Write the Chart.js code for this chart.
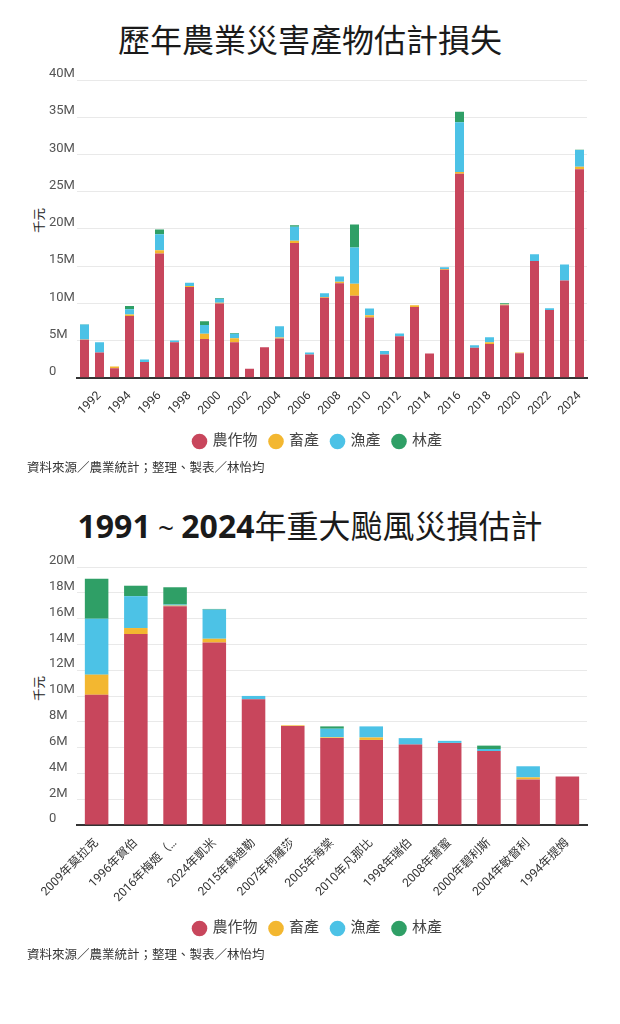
<!DOCTYPE html>
<html lang="zh-Hant">
<head>
<meta charset="utf-8">
<script src="https://cdn.jsdelivr.net/npm/chart.js@4.4.1/dist/chart.umd.min.js"></script>
<style>
  body { margin:0; background:#fff; width:620px; height:1024px; position:relative; overflow:hidden;
         font-family:'Noto Sans','Noto Sans CJK TC',sans-serif; color:#1a1a1a; }
  .title { position:absolute; left:0; width:620px; text-align:center; white-space:nowrap; }
  .box { position:absolute; left:0; width:620px; }
  .unit { position:absolute; font-size:12.5px; color:#222; transform:rotate(-90deg); transform-origin:center; white-space:nowrap; }
  .source { position:absolute; left:27px; font-size:12.5px; color:#333; font-family:'Noto Sans CJK TC',sans-serif; }
</style>
</head>
<body>

<div class="title" style="top:15px;font-size:32px;font-family:'Noto Sans CJK TC',sans-serif;">歷年農業災害產物估計損失</div>
<div class="unit" style="left:26px;top:211px;">千元</div>
<div class="box" style="top:58px;height:401px;"><canvas id="yearChart"></canvas></div>
<div class="source" style="top:457px;">資料來源／農業統計；整理、製表／林怡均</div>

<div class="title" style="top:501px;font-size:32px;"><b>1991</b><span style="font-size:28px;font-weight:400;"> ~ </span><b>2024</b><span style="font-family:'Noto Sans CJK TC',sans-serif;">年重大颱風災損估計</span></div>
<div class="unit" style="left:26px;top:679px;">千元</div>
<div class="box" style="top:545px;height:401px;"><canvas id="typhoonChart"></canvas></div>
<div class="source" style="top:944px;">資料來源／農業統計；整理、製表／林怡均</div>

<script>
// values in millions of 千元
const seriesNames = ['農作物', '畜產', '漁產', '林產']

const years = ['1991','1992','1993','1994','1995','1996','1997','1998','1999','2000',
               '2001','2002','2003','2004','2005','2006','2007','2008','2009','2010',
               '2011','2012','2013','2014','2015','2016','2017','2018','2019','2020',
               '2021','2022','2023','2024']
const yearCrops     = [5.1,3.4,1.27,8.3,2.13,16.7,4.76,12.2,5.2,9.97,4.76,1.22,4.08,5.26,18.1,3.13,10.74,12.7,11.0,8.1,3.13,5.57,9.5,3.26,14.5,27.4,4.03,4.53,9.74,3.3,15.7,9.1,13.05,28.0]
const yearLivestock = [0.05,0,0.23,0.2,0,0.43,0,0.14,0.7,0.1,0.54,0,0,0.14,0.3,0,0.1,0.2,1.64,0.3,0,0,0.24,0,0.1,0.23,0,0.23,0.1,0.1,0,0,0,0.36]
const yearFishery   = [2.0,1.36,0,0.7,0.32,2.16,0.24,0.43,1.2,0.53,0.6,0,0,1.53,1.9,0.27,0.5,0.7,4.86,0.9,0.45,0.37,0,0,0.26,6.7,0.32,0.68,0.08,0,0.9,0.23,2.17,2.22]
const yearForestry  = [0.05,0,0,0.45,0,0.64,0,0,0.5,0.1,0.1,0,0,0,0.2,0,0,0,3.1,0,0,0,0,0,0,1.4,0,0,0.08,0,0,0,0,0.05]

const typhoons = ['2009年莫拉克','1996年賀伯','2016年梅姬（…','2024年凱米','2015年蘇迪勒','2007年柯羅莎',
                  '2005年海棠','2010年凡那比','1998年瑞伯','2008年薔蜜','2000年碧利斯','2004年敏督利','1994年提姆']
const tyCrops     = [10.1,14.8,16.96,14.15,9.75,7.68,6.76,6.6,6.24,6.37,5.74,3.54,3.77]
const tyLivestock = [1.56,0.47,0.05,0.29,0,0.05,0.05,0.19,0,0,0,0.16,0]
const tyFishery   = [4.33,2.47,0.08,2.26,0.26,0,0.66,0.86,0.5,0.16,0.16,0.86,0]
const tyForestry  = [3.1,0.81,1.34,0.05,0,0,0.18,0,0,0,0.26,0,0]

const colors = ['#c8465c', '#f3b730', '#4cc2e6', '#2f9f66']
const fontFamily = "Roboto, 'Noto Sans CJK TC', sans-serif"

function makeDatasets(lists){
    return lists.map((data, i) => ({
        label: seriesNames[i],
        data: data,
        backgroundColor: colors[i],
        borderWidth: 0,
        barPercentage: 0.6,
        categoryPercentage: 1.0
    }))
}

function renderChart(id, labels, lists, maxVal, step, xCallback){
    var ctx = document.getElementById(id).getContext('2d')
    return new Chart(ctx, {
        type: 'bar',
        data: { labels: labels, datasets: makeDatasets(lists) },
        options: {
            responsive: true,
            maintainAspectRatio: false,
            animation: false,
            layout: { padding: { left: 49, right: 33, top: 22, bottom: 0 } },
            plugins: {
                tooltip: { enabled: false },
                legend: {
                    position: 'bottom',
                    labels: {
                        usePointStyle: true, pointStyle: 'circle',
                        boxWidth: 11, boxHeight: 11, padding: 13,
                        color: '#444', font: { family: fontFamily, size: 15 }
                    }
                }
            },
            scales: {
                x: {
                    stacked: true,
                    grid: { display: false },
                    border: { color: '#333', width: 2 },
                    ticks: {
                        autoSkip: false, maxRotation: 45, minRotation: 45,
                        color: '#333', font: { family: fontFamily, size: 12 },
                        callback: xCallback
                    }
                },
                y: {
                    stacked: true,
                    min: 0, max: maxVal,
                    afterFit: s => { s.width = 28 },
                    grid: { color: '#e9e9e9', drawTicks: false },
                    border: { display: false },
                    ticks: {
                        stepSize: step, crossAlign: 'far', labelOffset: -6, padding: 0,
                        color: '#555', font: { family: fontFamily, size: 13 },
                        callback: v => v === 0 ? '0' : v + 'M'
                    }
                }
            }
        }
    })
}

renderChart('yearChart', years, [yearCrops, yearLivestock, yearFishery, yearForestry], 40, 5,
    function(value, index){ return index % 2 === 1 ? years[index] : '' })
renderChart('typhoonChart', typhoons, [tyCrops, tyLivestock, tyFishery, tyForestry], 20, 2,
    function(value, index){ return typhoons[index] })
</script>
</body>
</html>
